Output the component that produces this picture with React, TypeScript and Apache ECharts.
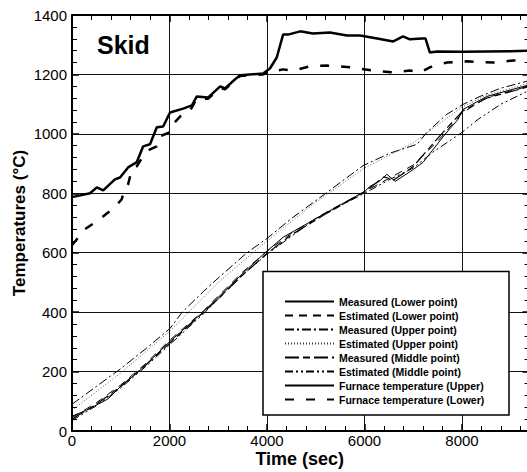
import React, { useEffect, useRef } from "react";
import * as echarts from "echarts";

// ---------- data (time in sec, temperature in °C) ----------
const xTicks = [0, 2000, 4000, 6000, 8000];
const yTicks = [0, 200, 400, 600, 800, 1000, 1200, 1400];

const measLowerT = [0, 300, 740, 985, 1400, 2000, 2690, 3000, 3500, 3960, 4330, 5230, 6010, 6110, 6300, 6460, 6630, 7000, 7200, 7650, 7920, 8020, 8510, 9400];
const measLowerV = [50, 70, 108, 148, 205, 300, 400, 450, 530, 600, 652, 736, 807, 823, 840, 864, 840, 880, 904, 998, 1049, 1082, 1126, 1166];

const estLowerT = [0, 500, 1000, 1500, 2000, 2700, 3500, 4000, 4500, 5200, 6000, 6500, 7000, 7500, 8000, 8500, 9400];
const estLowerV = [45, 95, 155, 225, 305, 405, 535, 605, 665, 735, 805, 850, 895, 975, 1070, 1122, 1162];

const measUpperT = [0, 500, 985, 1500, 2010, 2260, 2700, 3000, 3590, 4000, 4500, 5230, 5970, 6520, 7080, 7280, 7690, 8020, 8370, 8780, 9400];
const measUpperV = [90, 150, 208, 275, 345, 400, 470, 515, 600, 648, 715, 803, 893, 935, 965, 1005, 1066, 1099, 1126, 1153, 1180];

const estUpperT = [0, 1000, 2000, 3000, 4000, 5000, 6000, 7000, 7500, 8000, 8500, 9400];
const estUpperV = [70, 195, 335, 500, 640, 770, 885, 970, 1030, 1090, 1130, 1172];

const measMiddleT = [0, 500, 1000, 1500, 2000, 2500, 3000, 3500, 4000, 4500, 5200, 6000, 6400, 6600, 7000, 7500, 8000, 8500, 9400];
const measMiddleV = [40, 90, 150, 220, 295, 370, 445, 525, 598, 660, 730, 805, 855, 845, 890, 985, 1075, 1120, 1160];

const estMiddleT = [0, 500, 1000, 1500, 2000, 2700, 3500, 4000, 5000, 6000, 6500, 7000, 7400, 8000, 8330, 8800, 9400];
const estMiddleV = [35, 85, 145, 215, 290, 395, 525, 595, 715, 800, 845, 885, 938, 1005, 1049, 1100, 1148];

const furnUpperT = [0, 370, 510, 640, 880, 985, 1150, 1330, 1460, 1600, 1740, 1870, 2010, 2280, 2460, 2560, 2790, 3040, 3140, 3340, 3450, 3920, 4060, 4200, 4330, 4430, 4680, 4940, 5290, 5640, 5910, 6260, 6590, 6790, 6930, 7180, 7250, 7340, 7490, 8000, 8500, 9000, 9400];
const furnUpperV = [787, 800, 820, 810, 847, 853, 887, 905, 958, 965, 1022, 1025, 1072, 1085, 1096, 1126, 1122, 1160, 1153, 1183, 1197, 1203, 1220, 1257, 1334, 1334, 1345, 1338, 1341, 1331, 1331, 1321, 1311, 1328, 1318, 1321, 1321, 1274, 1277, 1276, 1277, 1278, 1280];

const furnLowerT = [0, 270, 570, 700, 880, 1020, 1070, 1150, 1230, 1330, 1460, 1600, 1740, 1800, 2010, 2070, 2220, 2360, 2460, 2560, 2790, 3040, 3140, 3340, 3450, 3920, 4060, 4330, 4530, 4880, 5230, 5700, 6170, 6590, 6930, 7140, 7340, 7690, 8100, 8640, 9050, 9400];
const furnLowerV = [625, 680, 713, 730, 753, 780, 807, 830, 881, 891, 925, 948, 958, 992, 1005, 1032, 1059, 1066, 1089, 1120, 1118, 1155, 1150, 1180, 1195, 1200, 1208, 1217, 1213, 1227, 1230, 1224, 1213, 1207, 1213, 1207, 1224, 1240, 1244, 1240, 1247, 1244];

const seriesNames = [
  "Measured (Lower point)",
  "Estimated (Lower point)",
  "Measured (Upper point)",
  "Estimated (Upper point)",
  "Measured (Middle point)",
  "Estimated (Middle point)",
  "Furnace temperature (Upper)",
  "Furnace temperature (Lower)",
];

const zip = (t: number[], v: number[]) => t.map((x, i) => [x, v[i]]);

const FONT = "Liberation Sans, Arial, Helvetica, sans-serif";

export default function App() {
  const ref = useRef<HTMLDivElement>(null);

  useEffect(() => {
    if (!ref.current) return;
    const chart = echarts.init(ref.current, undefined, { renderer: "svg" });

    const mkLine = (
      name: string,
      data: number[][],
      width: number,
      type: any,
      color = "#000"
    ) => ({
      name,
      type: "line",
      data,
      symbol: "none",
      showSymbol: false,
      xAxisIndex: 0,
      yAxisIndex: 0,
      lineStyle: { color, width, type },
      itemStyle: { color },
      z: 2,
    });

    const axisCommonX = {
      type: "value",
      min: xTicks[0],
      max: 10000,
      interval: xTicks[1] - xTicks[0],
      axisLine: { show: true, onZero: false, lineStyle: { color: "#000", width: 2 } },
      axisTick: { show: true, inside: true, length: 7, lineStyle: { color: "#000", width: 1.5 } },
      minorTick: { show: true, splitNumber: 5, length: 5, lineStyle: { color: "#000", width: 1 } },
    };
    const axisCommonY = {
      type: "value",
      min: yTicks[0],
      max: yTicks[yTicks.length - 1],
      interval: yTicks[1] - yTicks[0],
      axisLine: { show: true, onZero: false, lineStyle: { color: "#000", width: 2 } },
      axisTick: { show: true, inside: true, length: 7, lineStyle: { color: "#000", width: 1.5 } },
      minorTick: { show: true, splitNumber: 5, length: 5, lineStyle: { color: "#000", width: 1 } },
    };

    chart.setOption({
      animation: false,
      backgroundColor: "#fff",
      grid: {
        left: 72,
        top: 15,
        right: -32.5,
        bottom: 41,
        containLabel: false,
        outerBoundsMode: "none",
      },
      xAxis: [
        {
          ...axisCommonX,
          position: "bottom",
          splitLine: { show: true, lineStyle: { color: "#111", width: 1 } },
          axisLabel: {
            color: "#000",
            fontSize: 15,
            lineHeight: 13,
            fontFamily: FONT,
            margin: 3,
            showMaxLabel: false,
            formatter: (v: number) => (xTicks.includes(v) ? String(v) : ""),
          },
          name: "Time (sec)",
          nameLocation: "middle",
          nameGap: 20,
          nameMoveOverlap: false,
          nameTextStyle: {
            color: "#000",
            fontSize: 18,
            lineHeight: 16,
            fontWeight: "bold",
            fontFamily: FONT,
            padding: [0, 32, 0, 0],
          },
        },
        {
          ...axisCommonX,
          position: "top",
          splitLine: { show: false },
          axisLabel: { show: false },
        },
      ],
      yAxis: [
        {
          ...axisCommonY,
          position: "left",
          splitLine: { show: true, lineStyle: { color: "#111", width: 1 } },
          axisLabel: {
            color: "#000",
            fontSize: 15,
            fontFamily: FONT,
            margin: 5,
            formatter: (v: number) => String(v),
          },
          name: "Temperatures (°C)",
          nameLocation: "middle",
          nameRotate: 90,
          nameGap: 44,
          nameMoveOverlap: false,
          nameTextStyle: { color: "#000", fontSize: 17, fontWeight: "bold", fontFamily: FONT },
        },
        {
          ...axisCommonY,
          position: "right",
          offset: -30,
          splitLine: { show: false },
          axisLabel: { show: false },
        },
      ],
      legend: {
        orient: "vertical",
        left: 284,
        top: 296,
        padding: 0,
        itemWidth: 49,
        itemHeight: 10,
        itemGap: 3,
        itemTextGap: 8,
        selectedMode: false,
        z: 5,
        data: seriesNames,
        itemStyle: { color: "rgba(0,0,0,0)", borderColor: "rgba(0,0,0,0)", borderWidth: 0 },
        textStyle: { color: "#000", fontSize: 10.5, fontWeight: "bold", fontFamily: FONT, lineHeight: 10 },
      },
      graphic: [
        {
          type: "rect",
          z: 3,
          shape: { x: 263, y: 271.5, width: 246, height: 143.5 },
          style: { fill: "#fff", stroke: "#000", lineWidth: 1.5 },
        },
        {
          type: "text",
          z: 5,
          x: 97,
          y: 45,
          style: {
            text: "Skid",
            fill: "#000",
            font: `bold 25px ${FONT}`,
            verticalAlign: "middle",
            align: "left",
          },
        },
      ],
      series: [
        mkLine(seriesNames[0], zip(measLowerT, measLowerV), 1, "solid"),
        mkLine(seriesNames[1], zip(estLowerT, estLowerV), 1, [8, 6]),
        mkLine(seriesNames[2], zip(measUpperT, measUpperV), 1, [9, 3, 2, 3]),
        mkLine(seriesNames[3], zip(estUpperT, estUpperV), 0.8, [1, 2], "#333"),
        mkLine(seriesNames[4], zip(measMiddleT, measMiddleV), 1.2, [14, 4, 7, 4]),
        mkLine(seriesNames[5], zip(estMiddleT, estMiddleV), 1, [8, 3, 2, 3, 2, 3]),
        mkLine(seriesNames[6], zip(furnUpperT, furnUpperV), 2.5, "solid"),
        mkLine(seriesNames[7], zip(furnLowerT, furnLowerV), 2.5, [9, 12]),
      ],
    });

    return () => chart.dispose();
  }, []);

  return (
    <div
      ref={ref}
      style={{ position: "fixed", left: 0, top: 0, width: 527, height: 472, background: "#fff" }}
    />
  );
}
